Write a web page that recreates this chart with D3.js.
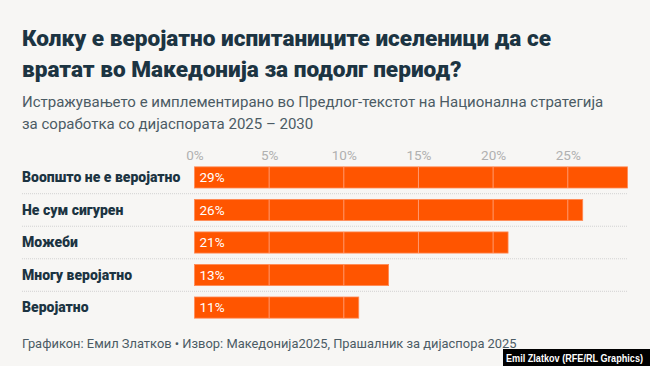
<!DOCTYPE html>
<html>
<head>
<meta charset="utf-8">
<script src="https://cdn.jsdelivr.net/npm/d3@7.9.0/dist/d3.min.js"></script>
<style>
  body { margin: 0; background: #f7f6f4; }
  svg { display: block; font-family: Roboto, "Noto Sans", sans-serif; }
</style>
</head>
<body>
<svg id="chart"></svg>
<script>
// chart data
const categories = ["Воопшто не е веројатно", "Не сум сигурен", "Можеби", "Многу веројатно", "Веројатно"];
const values = [29, 26, 21, 13, 11];
const tickValues = [0, 5, 10, 15, 20, 25];
const titleLines = ["Колку е веројатно испитаниците иселеници да се", "вратат во Македонија за подолг период?"];
const subtitleLines = ["Истражувањето е имплементирано во Предлог-текстот на Национална стратегија", "за соработка со дијаспората 2025 – 2030"];
const footer = "Графикон: Емил Златков • Извор: Македонија2025, Прашалник за дијаспора 2025";
const credit = "Emil Zlatkov (RFE/RL Graphics)";

const W = 650, H = 366;
const svg = d3.select("#chart").attr("width", W).attr("height", H);

svg.append("rect").attr("width", W).attr("height", H).attr("fill", "#f7f6f4");

// title
svg.append("g").selectAll("text")
  .data(titleLines)
  .enter().append("text")
  .attr("x", 22)
  .attr("y", (d, i) => 46 + i * 31)
  .attr("fill", "#1c3442")
  .style("font-size", "22.6px")
  .style("font-weight", 900)
  .text(d => d);

// subtitle
svg.append("g").selectAll("text")
  .data(subtitleLines)
  .enter().append("text")
  .attr("x", 22)
  .attr("y", (d, i) => 107 + i * 21.5)
  .attr("fill", "#4b5b64")
  .style("font-size", "15px")
  .text(d => d);

const x = d3.scaleLinear().domain([0, 29]).range([194.5, 627.5]);
const y = d3.scaleBand().domain(categories).range([161, 324]).paddingInner(0.35).paddingOuter(0.18);

// tick labels on top
const axis = svg.append("g")
  .attr("transform", "translate(0,160)")
  .call(d3.axisTop(x).tickValues(tickValues).tickFormat(d => d + "%").tickSize(0).tickPadding(0));
axis.select(".domain").remove();
axis.selectAll("text")
  .attr("fill", "#b0b0b0")
  .style("font-size", "13.5px")
  .style("font-family", "Roboto, sans-serif");

// dotted row separators
svg.append("g").selectAll("line")
  .data(categories.slice(1))
  .enter().append("line")
  .attr("x1", 22).attr("x2", 628)
  .attr("y1", d => y(d) - (y.step() - y.bandwidth()) / 2)
  .attr("y2", d => y(d) - (y.step() - y.bandwidth()) / 2)
  .attr("stroke", "#d2d2d2")
  .attr("stroke-width", 1)
  .attr("stroke-dasharray", "1,1");

// bars
svg.append("g").selectAll("rect")
  .data(values)
  .enter().append("rect")
  .attr("x", x(0))
  .attr("y", (d, i) => y(categories[i]))
  .attr("width", d => x(d) - x(0))
  .attr("height", y.bandwidth())
  .attr("fill", "#ff5500")
  .attr("stroke", "#ff8a55")
  .attr("stroke-width", 0.8);

// gridlines over bars
values.forEach((v, i) => {
  svg.append("g").selectAll("line")
    .data(tickValues.filter(t => t > 0 && t < v))
    .enter().append("line")
    .attr("x1", d => x(d)).attr("x2", d => x(d))
    .attr("y1", y(categories[i])).attr("y2", y(categories[i]) + y.bandwidth())
    .attr("stroke", "#ff9a70")
    .attr("stroke-width", 1);
});

// category labels
svg.append("g").selectAll("text")
  .data(categories)
  .enter().append("text")
  .attr("x", 22)
  .attr("y", d => y(d) + y.bandwidth() / 2)
  .attr("dy", "0.35em")
  .attr("fill", "#1c3442")
  .style("font-size", "14px")
  .style("font-weight", 900)
  .text(d => d);

// value labels
svg.append("g").selectAll("text")
  .data(values)
  .enter().append("text")
  .attr("x", x(0) + 5)
  .attr("y", (d, i) => y(categories[i]) + y.bandwidth() / 2)
  .attr("dy", "0.35em")
  .attr("fill", "#ffffff")
  .style("font-size", "13.5px")
  .text(d => d + "%");

// footer
svg.append("text")
  .attr("x", 22)
  .attr("y", 348)
  .attr("fill", "#4b5b64")
  .style("font-size", "12.9px")
  .text(footer);

// credit box
svg.append("rect").attr("x", 503).attr("y", 349).attr("width", 147).attr("height", 17).attr("fill", "#000");
svg.append("text")
  .attr("x", 506)
  .attr("y", 361.5)
  .attr("fill", "#fff")
  .attr("textLength", 137)
  .attr("lengthAdjust", "spacingAndGlyphs")
  .style("font-size", "10.5px")
  .style("font-weight", "bold")
  .style("font-family", "'Liberation Sans', Arial, sans-serif")
  .text(credit);
</script>
</body>
</html>
